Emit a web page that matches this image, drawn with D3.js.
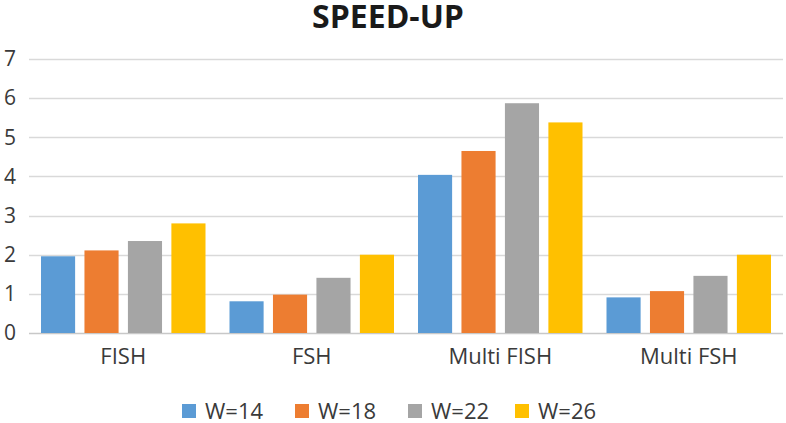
<!DOCTYPE html>
<html>
<head>
<meta charset="utf-8">
<script src="https://cdn.jsdelivr.net/npm/d3@7"></script>
<style>
html,body{margin:0;padding:0;background:#fff;}
svg{display:block;}
text{font-family:"Open Sans",sans-serif;}
</style>
</head>
<body>
<svg id="chart" width="786" height="423"></svg>
<script>
const categories = ["FISH", "FSH", "Multi FISH", "Multi FSH"];
const seriesNames = ["W=14", "W=18", "W=22", "W=26"];
const w14 = [1.96, 0.81, 4.04, 0.91];
const w18 = [2.11, 0.98, 4.65, 1.07];
const w22 = [2.35, 1.41, 5.87, 1.46];
const w26 = [2.80, 2.00, 5.38, 2.00];
const yTicks = [0, 1, 2, 3, 4, 5, 6, 7];
const colors = ["#5b9bd5", "#ed7d31", "#a5a5a5", "#ffc000"];
const seriesValues = [w14, w18, w22, w26];

const svg = d3.select("#chart");
const mLeft = 29, mRight = 783, mTop = 59, mBottom = 333;

const x0 = d3.scaleBand().domain(categories).range([mLeft, mRight]).padding(0);
const x1 = d3.scaleBand().domain(seriesNames)
  .range([12, x0.bandwidth() - 12]).paddingInner(0.215).paddingOuter(0);
const y = d3.scaleLinear().domain([0, 7]).range([mBottom, mTop]);
const color = d3.scaleOrdinal().domain(seriesNames).range(colors);

// gridlines
svg.append("g").selectAll("line").data(yTicks).join("line")
  .attr("x1", mLeft).attr("x2", mRight)
  .attr("y1", d => Math.round(y(d)) + 0.5).attr("y2", d => Math.round(y(d)) + 0.5)
  .attr("stroke", d => d === 0 ? "#c8c8c8" : "#d9d9d9").attr("stroke-width", 1.3);

// y labels
const yAxis = d3.axisLeft(y).tickValues(yTicks).tickSize(0).tickPadding(0).tickFormat(d3.format("d"));
const gy = svg.append("g").attr("transform", "translate(16,0)").call(yAxis);
gy.select(".domain").remove();
gy.selectAll("text").attr("font-size", 21).attr("fill", "#3a3a3a")
  .style("font-family", "'Open Sans',sans-serif");

// bars
const groups = svg.append("g").selectAll("g").data(categories).join("g")
  .attr("transform", c => `translate(${x0(c)},0)`);
groups.selectAll("rect").data((c, i) => seriesNames.map((s, j) => ({s, v: seriesValues[j][i]})))
  .join("rect")
  .attr("x", d => x1(d.s)).attr("width", x1.bandwidth())
  .attr("y", d => y(d.v)).attr("height", d => y(0) - y(d.v))
  .attr("fill", d => color(d.s));

// x labels
const xAxis = d3.axisBottom(x0).tickSize(0).tickPadding(0);
const gx = svg.append("g").attr("transform", "translate(0,348)").call(xAxis);
gx.select(".domain").remove();
gx.selectAll("text").attr("font-size", 22).attr("fill", "#3a3a3a").attr("dy", "0.71em")
  .style("font-family", "'Open Sans',sans-serif");

// title
svg.append("text").attr("x", 388).attr("y", 28).attr("text-anchor", "middle")
  .attr("font-size", 32).attr("font-weight", "bold").attr("fill", "#1a1a1a")
  .text("SPEED-UP");

// legend
const legendX = [182, 295, 408, 515];
const lg = svg.append("g").selectAll("g").data(seriesNames).join("g")
  .attr("transform", (d, i) => `translate(${legendX[i]},404)`);
lg.append("rect").attr("width", 14).attr("height", 14).attr("fill", d => color(d));
lg.append("text").attr("x", 23).attr("y", 14.5).attr("font-size", 22).attr("fill", "#3a3a3a").text(d => d);
</script>
</body>
</html>
